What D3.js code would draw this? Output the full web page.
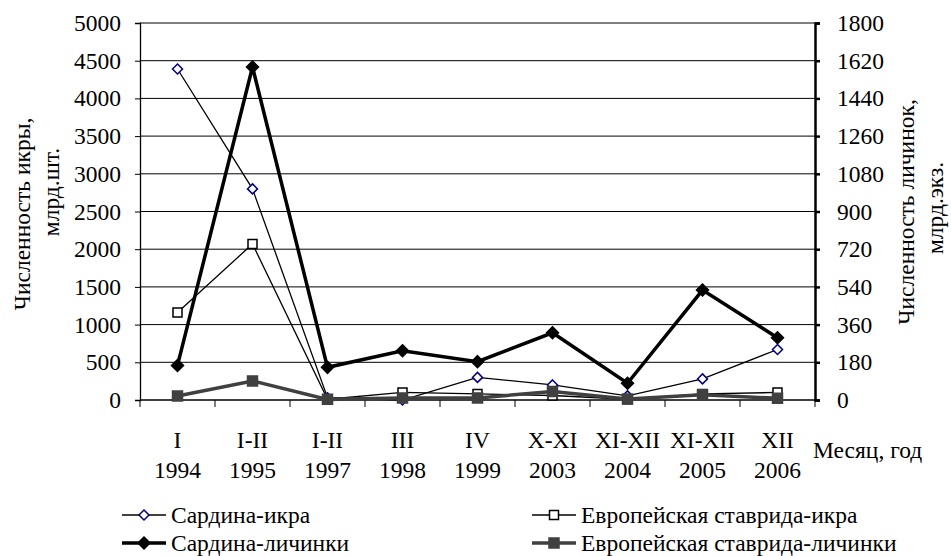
<!DOCTYPE html>
<html>
<head>
<meta charset="utf-8">
<script src="https://cdn.jsdelivr.net/npm/d3@7"></script>
<style>
  body { margin: 0; background: #fff; }
</style>
</head>
<body>
<svg width="951" height="556"></svg>
<script>
// categories (month / year)
var months = ["I", "I-II", "I-II", "III", "IV", "X-XI", "XI-XII", "XI-XII", "XII"];
var years = ["1994", "1995", "1997", "1998", "1999", "2003", "2004", "2005", "2006"];

// eggs, bln (left axis)
var sardineEggs = [4390, 2800, 30, 0, 300, 200, 55, 280, 670];
var scadEggs = [1160, 2070, 10, 100, 80, 60, 10, 80, 100];
// larvae, bln (right axis)
var sardineLarvae = [165, 1590, 156, 235, 183, 321, 80, 525, 297];
var scadLarvae = [19, 91, 3, 10, 10, 40, 5, 25, 8];

var leftTicks = d3.range(0, 5001, 500);
var rightTicks = d3.range(0, 1801, 180);

var svg = d3.select("svg");
var fs = "23.5px", ff = "'Liberation Serif', 'Times New Roman', serif";
var plotL = 140, plotR = 815, plotT = 23, plotB = 400;

function txt(sel) {
  return sel.style("font-family", ff).style("font-size", fs).attr("fill", "#000");
}

var x = d3.scaleBand().domain(d3.range(months.length)).range([plotL, plotR]);
var yL = d3.scaleLinear().domain([0, 5000]).range([plotB, plotT]);
var yR = d3.scaleLinear().domain([0, 1800]).range([plotB, plotT]);

// grid
svg.append("g").selectAll("line")
  .data(leftTicks.slice(1))
  .enter().append("line")
    .attr("x1", plotL).attr("x2", plotR)
    .attr("y1", function(d) { return yL(d); })
    .attr("y2", function(d) { return yL(d); })
    .attr("stroke", "#000").attr("stroke-width", 1);

// left axis
var gL = svg.append("g").attr("transform", "translate(" + plotL + ",0)")
  .call(d3.axisLeft(yL).tickValues(leftTicks).tickFormat(d3.format("d")).tickSize(5).tickPadding(14));
gL.select(".domain").attr("stroke-width", 1.3);
txt(gL.selectAll("text"));

// right axis
var gR = svg.append("g").attr("transform", "translate(" + plotR + ",0)")
  .call(d3.axisRight(yR).tickValues(rightTicks).tickFormat(d3.format("d")).tickSize(5).tickPadding(17));
gR.select(".domain").attr("stroke-width", 2.5);
gR.selectAll(".tick line").attr("stroke-width", 2.5);
txt(gR.selectAll("text"));

// bottom axis with ticks between categories
svg.append("line").attr("x1", plotL).attr("x2", plotR)
  .attr("y1", plotB).attr("y2", plotB).attr("stroke", "#000").attr("stroke-width", 1.3);
svg.append("g").selectAll("line")
  .data(d3.range(months.length + 1))
  .enter().append("line")
    .attr("x1", function(i) { return plotL + i * x.step(); })
    .attr("x2", function(i) { return plotL + i * x.step(); })
    .attr("y1", plotB).attr("y2", plotB + 7)
    .attr("stroke", "#000");

var cx = function(d, i) { return x(i) + x.bandwidth() / 2; };

txt(svg.append("g").selectAll("text")
  .data(months)
  .enter().append("text")
    .attr("x", cx).attr("y", 448)
    .attr("text-anchor", "middle")
    .text(function(d) { return d; }));
txt(svg.append("g").selectAll("text")
  .data(years)
  .enter().append("text")
    .attr("x", cx).attr("y", 478)
    .attr("text-anchor", "middle")
    .text(function(d) { return d; }));
txt(svg.append("text").attr("x", 813).attr("y", 458).text("Месяц, год"));

// axis titles
txt(svg.append("text").attr("transform", "translate(30,214) rotate(-90)")
  .attr("text-anchor", "middle").text("Численность икры,"));
txt(svg.append("text").attr("transform", "translate(59,192) rotate(-90)")
  .attr("text-anchor", "middle").text("млрд.шт."));
txt(svg.append("text").attr("transform", "translate(914,212) rotate(-90)")
  .attr("text-anchor", "middle").text("Численность личинок,"));
txt(svg.append("text").attr("transform", "translate(943,208) rotate(-90)")
  .attr("text-anchor", "middle").text("млрд.экз."));

function diamondPath(s) { return "M0," + (-s) + "L" + s + ",0L0," + s + "L" + (-s) + ",0Z"; }
function squarePath(s) { return "M" + (-s) + "," + (-s) + "h" + 2 * s + "v" + 2 * s + "h" + (-2 * s) + "Z"; }

var series = [
  { name: "Сардина-икра", values: sardineEggs, y: yL, line: "#000", width: 1.3,
    marker: diamondPath(5), mfill: "#fff", mstroke: "#000080" },
  { name: "Европейская ставрида-икра", values: scadEggs, y: yL, line: "#000", width: 1.3,
    marker: squarePath(4.5), mfill: "#fff", mstroke: "#000" },
  { name: "Сардина-личинки", values: sardineLarvae, y: yR, line: "#000", width: 3.5,
    marker: diamondPath(6), mfill: "#000", mstroke: "#000" },
  { name: "Европейская ставрида-личинки", values: scadLarvae, y: yR, line: "#404040", width: 3.5,
    marker: squarePath(5), mfill: "#404040", mstroke: "#404040" }
];

[2, 0, 1, 3].forEach(function(k) {
  var s = series[k];
  var line = d3.line()
    .x(function(d, i) { return x(i) + x.bandwidth() / 2; })
    .y(function(d) { return s.y(d); });
  svg.append("path").datum(s.values)
    .attr("d", line).attr("fill", "none")
    .attr("stroke", s.line).attr("stroke-width", s.width)
    .attr("stroke-linejoin", "miter");
  svg.append("g").selectAll("path")
    .data(s.values)
    .enter().append("path")
      .attr("transform", function(d, i) { return "translate(" + (x(i) + x.bandwidth() / 2) + "," + s.y(d) + ")"; })
      .attr("d", s.marker)
      .attr("fill", s.mfill).attr("stroke", s.mstroke).attr("stroke-width", 1.5);
});

// legend
var legendPos = [[122, 515], [532, 515], [122, 543], [532, 543]];
series.forEach(function(s, j) {
  var p = legendPos[j];
  var g = svg.append("g").attr("transform", "translate(" + p[0] + "," + p[1] + ")");
  g.append("line").attr("x1", 0).attr("x2", 44).attr("y1", 0).attr("y2", 0)
    .attr("stroke", s.line).attr("stroke-width", s.width);
  g.append("path").attr("transform", "translate(22,0)").attr("d", s.marker)
    .attr("fill", s.mfill).attr("stroke", s.mstroke).attr("stroke-width", 1.5);
  txt(g.append("text").attr("x", 49).attr("y", 8).text(s.name));
});
</script>
</body>
</html>
